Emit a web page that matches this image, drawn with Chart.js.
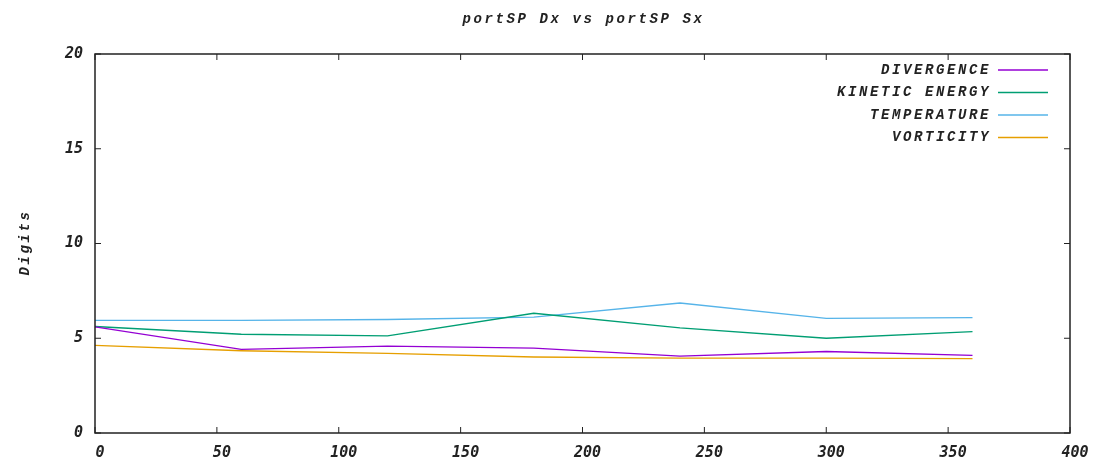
<!DOCTYPE html>
<html>
<head>
<meta charset="utf-8">
<script src="https://cdn.jsdelivr.net/npm/chart.js@4"></script>
<style>
  html, body { margin: 0; padding: 0; background: #fff; }
  #wrap { width: 1113px; height: 461px; }
</style>
</head>
<body>
<div id="wrap"><canvas id="myChart" width="1113" height="461"></canvas></div>
<script>
var steps = [0, 60, 120, 180, 240, 300, 360];

var divergence    = [5.60, 4.41, 4.58, 4.48, 4.06, 4.30, 4.10];
var kineticEnergy = [5.62, 5.21, 5.13, 6.32, 5.55, 5.00, 5.35];
var temperature   = [5.94, 5.94, 5.99, 6.12, 6.86, 6.05, 6.09];
var vorticity     = [4.62, 4.34, 4.20, 4.01, 3.95, 3.95, 3.92];

var seriesNames  = ['DIVERGENCE', 'KINETIC ENERGY', 'TEMPERATURE', 'VORTICITY'];
var seriesColors = ['#9400d3', '#009e73', '#56b4e9', '#e69f00'];
var xTicks = [0, 50, 100, 150, 200, 250, 300, 350, 400];
var yTicks = [0, 5, 10, 15, 20];

var chartTitle = 'portSP Dx vs portSP Sx';
var yTitle = 'Digits';

var courier = "'Liberation Mono', 'DejaVu Sans Mono', monospace";
var tickFont = "'DejaVu Sans Mono', monospace";
var ink = '#222';

function points(vals) {
	var out = [];
	for (var i = 0; i < steps.length; i++) {
		out.push({x: steps[i], y: vals[i]});
	}
	return out;
}

var allSeries = [divergence, kineticEnergy, temperature, vorticity];
var datasets = [];
for (var i = 0; i < allSeries.length; i++) {
	datasets.push({
		label: seriesNames[i],
		data: points(allSeries[i]),
		borderColor: seriesColors[i],
		backgroundColor: seriesColors[i],
		borderWidth: 1.3,
		pointRadius: 0,
		tension: 0
	});
}

// gnuplot look: wide courier text, box with inward ticks, legend inside top right
var frame = {
	id: 'frame',
	afterDatasetsDraw: function(chart) {
		var ctx = chart.ctx, a = chart.chartArea;
		var xs = chart.scales.x, ys = chart.scales.y;
		ctx.save();
		ctx.strokeStyle = ink;
		ctx.lineWidth = 1.5;
		ctx.strokeRect(a.left, a.top, a.right - a.left, a.bottom - a.top);
		ctx.lineWidth = 1;
		ctx.beginPath();
		xTicks.forEach(function(v) {
			var px = xs.getPixelForValue(v);
			ctx.moveTo(px, a.bottom); ctx.lineTo(px, a.bottom - 6);
			ctx.moveTo(px, a.top); ctx.lineTo(px, a.top + 6);
		});
		yTicks.forEach(function(v) {
			var py = ys.getPixelForValue(v);
			ctx.moveTo(a.left, py); ctx.lineTo(a.left + 6, py);
			ctx.moveTo(a.right, py); ctx.lineTo(a.right - 6, py);
		});
		ctx.stroke();

		ctx.letterSpacing = '2.6px';
		ctx.font = 'italic bold 14px ' + courier;
		ctx.fillStyle = ink;
		ctx.textBaseline = 'middle';

		// title over the plot box
		ctx.textAlign = 'center';
		ctx.fillText(chartTitle, (a.left + a.right) / 2 + 1, 19);

		// y axis title
		ctx.save();
		ctx.translate(25, (a.top + a.bottom) / 2);
		ctx.rotate(-Math.PI / 2);
		ctx.fillText(yTitle, 1, 0);
		ctx.restore();

		// legend
		ctx.textAlign = 'right';
		chart.data.datasets.forEach(function(ds, k) {
			var y = 70 + k * 22.5;
			ctx.fillStyle = ink;
			ctx.fillText(ds.label, a.right - 79, y);
			ctx.strokeStyle = ds.borderColor;
			ctx.lineWidth = 1.3;
			ctx.beginPath();
			ctx.moveTo(a.right - 72, y);
			ctx.lineTo(a.right - 22, y);
			ctx.stroke();
		});
		ctx.restore();
	}
};

var ctx = document.getElementById('myChart').getContext('2d');

var myChart = new Chart(ctx, {
	type: 'line',
	data: { datasets: datasets },
	options: {
		responsive: false,
		animation: false,
		layout: { padding: { left: 0, right: 43, top: 54, bottom: 0 } },
		plugins: {
			legend: { display: false },
			tooltip: { enabled: false },
			title: { display: false }
		},
		scales: {
			x: {
				type: 'linear',
				min: 0,
				max: 400,
				afterBuildTicks: function(s) { s.ticks = xTicks.map(function(v) { return {value: v}; }); },
				afterFit: function(s) { s.height = 28; },
				grid: { display: false, drawTicks: false },
				border: { display: false },
				ticks: {
					color: ink,
					padding: 11,
					labelOffset: 5,
					maxRotation: 0,
					font: { family: tickFont, size: 15, style: 'italic', weight: 'bold' }
				}
			},
			y: {
				min: 0,
				max: 20,
				afterBuildTicks: function(s) { s.ticks = yTicks.map(function(v) { return {value: v}; }); },
				afterFit: function(s) { s.width = 95; },
				grid: { display: false, drawTicks: false },
				border: { display: false },
				ticks: {
					color: ink,
					padding: 12,
					font: { family: tickFont, size: 15, style: 'italic', weight: 'bold' }
				}
			}
		}
	},
	plugins: [frame]
});
</script>
</body>
</html>
